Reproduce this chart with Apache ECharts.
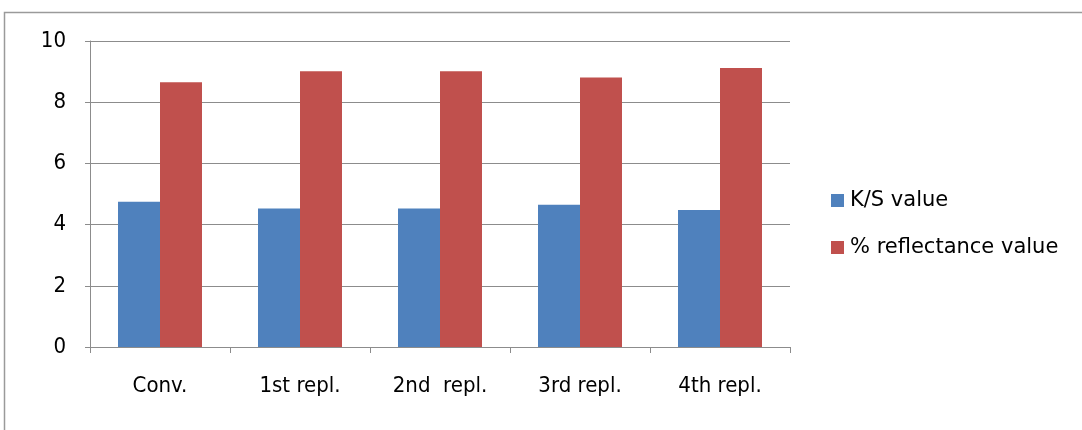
<!DOCTYPE html>
<html><head><meta charset="utf-8">
<script src="https://cdn.jsdelivr.net/npm/echarts@6/dist/echarts.min.js"></script>
<style>html,body{margin:0;padding:0;background:#fff}#c{width:1082px;height:430px}</style>
</head><body><div id="c"></div>
<script>
const categories = ['Conv.', '1st repl.', '2nd  repl.', '3rd repl.', '4th repl.'];
const ksValues = [4.75, 4.53, 4.53, 4.65, 4.48];
const reflectanceValues = [8.65, 9.01, 9.01, 8.81, 9.12];
const seriesNames = ['K/S value', '% reflectance value'];
const yTicks = [0, 2, 4, 6, 8, 10];

const axisFont = '"DejaVu Sans Condensed","DejaVu Sans",sans-serif';
const legendFont = '"DejaVu Sans",sans-serif';
const chart = echarts.init(document.getElementById('c'), null, {renderer: 'canvas'});
chart.setOption({
  animation: false,
  backgroundColor: '#fff',
  graphic: [{type: 'rect', shape: {x: 4.5, y: 12.5, width: 1090, height: 430}, style: {fill: 'none', stroke: '#9a9a9a', lineWidth: 1.5}}],
  grid: {left: 90, right: 292, top: 41, bottom: 83},
  legend: {
    orient: 'vertical', left: 826, top: 185, itemWidth: 13, itemHeight: 13, itemGap: 26,
    icon: 'rect',
    textStyle: {fontFamily: legendFont, fontSize: 21, color: '#000', padding: [0, 0, 0, 1]},
    data: seriesNames
  },
  xAxis: {
    type: 'category', data: categories,
    axisLine: {lineStyle: {color: '#8c8c8c', width: 1}},
    axisTick: {show: true, length: 6, inside: false, alignWithLabel: false, lineStyle: {color: '#8c8c8c'}},
    axisLabel: {fontFamily: axisFont, fontSize: 22, color: '#000', margin: 28}
  },
  yAxis: {
    type: 'value', min: 0, max: 10, interval: 2,
    axisLine: {show: true, lineStyle: {color: '#8c8c8c'}},
    axisTick: {show: true, length: 5, lineStyle: {color: '#8c8c8c'}},
    splitLine: {lineStyle: {color: '#8c8c8c', width: 1}},
    axisLabel: {fontFamily: axisFont, fontSize: 22, color: '#000', margin: 24,
      formatter: v => yTicks.includes(v) ? String(v) : ''}
  },
  series: [
    {name: seriesNames[0], type: 'bar', data: ksValues, barGap: '0%', barCategoryGap: '40%',
     itemStyle: {color: '#4f81bd'}},
    {name: seriesNames[1], type: 'bar', data: reflectanceValues,
     itemStyle: {color: '#c0504d'}}
  ]
});
</script></body></html>
